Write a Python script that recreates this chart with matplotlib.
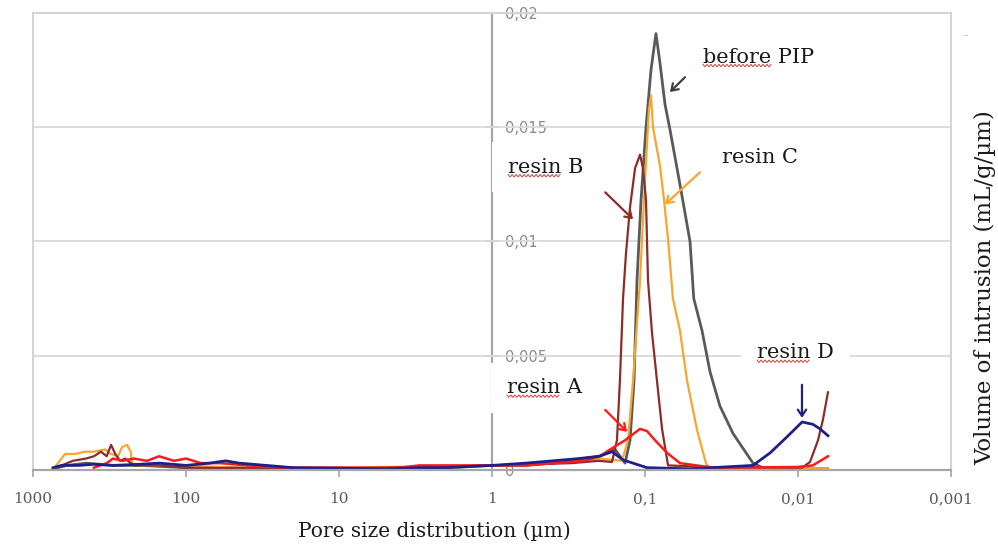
import numpy as np
import matplotlib
matplotlib.use("Agg")
import matplotlib.pyplot as plt
from matplotlib.ticker import NullLocator
from matplotlib.lines import Line2D

plt.rcParams["font.family"] = ["DejaVu Serif"]

# pore size (um) vs volume of intrusion (mL/g/um)
pip_x = [740, 600, 450, 300, 200, 100, 50, 20, 10, 5, 2, 1, 0.6, 0.4, 0.3, 0.25, 0.197, 0.157,
         0.135, 0.1253, 0.118, 0.1128, 0.1062, 0.0985, 0.0914, 0.0848, 0.0798, 0.074, 0.0687,
         0.0591, 0.0508, 0.048, 0.0424, 0.0376, 0.0324, 0.0266, 0.0197, 0.0164, 0.012, 0.009, 0.0064]
pip_y = [0.00005, 0.0002, 0.0003, 0.0002, 0.0002, 0.0001, 0.0001, 0.00005, 0.00005, 0.00005, 0.0001,
         0.0002, 0.0002, 0.0003, 0.0004, 0.0005, 0.0006, 0.0009, 0.0003, 0.0013, 0.0039,
         0.0083, 0.0118, 0.0150, 0.0175, 0.0191, 0.0178, 0.0160, 0.0149, 0.0125, 0.0100, 0.0075,
         0.0061, 0.0043, 0.0028, 0.0016, 0.0003, 0.00005, 0.00005, 0.00005, 0.00005]

c_x = [740, 687, 618, 532, 457, 400, 339, 309, 278, 262, 243, 230, 225, 200, 100, 50, 10, 1, 0.4,
       0.25, 0.197, 0.1413, 0.1292, 0.1198, 0.1078, 0.1, 0.0942, 0.0914, 0.0887, 0.0798, 0.0751,
       0.0707, 0.0657, 0.0591, 0.0531, 0.0457, 0.04, 0.0376, 0.02, 0.0064]
c_y = [0.0, 0.0003, 0.0007, 0.0007, 0.0008, 0.0008, 0.0009, 0.0007, 0.0006, 0.0010, 0.0011, 0.0008,
       0.0003, 0.0002, 0.0002, 0.0001, 0.0001, 0.0002, 0.0003, 0.0004, 0.0005, 0.0004, 0.0013,
       0.0039, 0.0083, 0.0127, 0.0158, 0.0164, 0.0150, 0.0133, 0.0118, 0.0101, 0.0075, 0.0061,
       0.0039, 0.00175, 0.0003, 0.00005, 0.00005, 0.00005]

b_x = [740, 650, 550, 450, 400, 360, 330, 309, 290, 270, 250, 220, 150, 100, 10, 1, 0.3, 0.2,
       0.1643, 0.1525, 0.1457, 0.1392, 0.1331, 0.1253, 0.1162, 0.1078, 0.103, 0.0985, 0.097,
       0.0956, 0.09, 0.0835, 0.0774, 0.0707, 0.03, 0.0094, 0.00835, 0.0074, 0.00687, 0.00637]
b_y = [0.0, 0.0002, 0.0004, 0.0005, 0.0006, 0.0008, 0.0006, 0.0011, 0.0007, 0.0004, 0.0005, 0.0002,
       0.0002, 0.0001, 0.00005, 0.0002, 0.0003, 0.0004, 0.00035, 0.0013, 0.0040, 0.0075, 0.0095,
       0.0115, 0.0132, 0.0138, 0.0132, 0.0118, 0.0100, 0.0083, 0.0060, 0.0039, 0.0018, 0.0002,
       0.0001, 0.0001, 0.00035, 0.0013, 0.0022, 0.0034]

a_x = [400, 330, 300, 260, 220, 180, 150, 120, 100, 80, 60, 40, 20, 8, 4, 3, 2, 1, 0.6, 0.4, 0.25,
       0.197, 0.169, 0.135, 0.1078, 0.097, 0.086, 0.0718, 0.0591, 0.036, 0.0101, 0.008, 0.00637]
a_y = [0.0001, 0.0003, 0.0005, 0.0004, 0.0005, 0.0004, 0.0006, 0.0004, 0.0005, 0.0003, 0.0003,
       0.0002, 0.0001, 0.0001, 0.0001, 0.0002, 0.0002, 0.0002, 0.0002, 0.0003, 0.0004, 0.0006,
       0.0009, 0.0013, 0.0018, 0.0017, 0.0013, 0.00075, 0.0003, 0.0001, 0.00013, 0.0002, 0.0006]

d_x = [740, 650, 500, 400, 300, 200, 150, 100, 70, 55, 45, 30, 20, 10, 5, 3, 2, 1, 0.6, 0.4, 0.27,
       0.2, 0.1643, 0.1392, 0.097, 0.05, 0.0197, 0.0152, 0.0118, 0.0094, 0.008, 0.00718, 0.00637]
d_y = [0.0001, 0.0002, 0.0002, 0.00025, 0.0002, 0.00025, 0.0003, 0.0002, 0.0003, 0.0004, 0.0003,
       0.0002, 0.0001, 0.00008, 0.00005, 0.0001, 0.0001, 0.0002, 0.0003, 0.0004, 0.0005, 0.0006,
       0.0008, 0.00044, 0.0001, 0.00005, 0.0002, 0.00075, 0.00145, 0.0021, 0.0020, 0.0018, 0.0015]

x_ticks = [1000, 100, 10, 1, 0.1, 0.01, 0.001]
x_ticklabels = ["1000", "100", "10", "1", "0,1", "0,01", "0,001"]
y_ticks = [0, 0.005, 0.01, 0.015, 0.02]
y_ticklabels = ["0", "0,005", "0,01", "0,015", "0,02"]

series = [(pip_x, pip_y, "#5a5a5a", 2.0), (c_x, c_y, "#f7a630", 1.6), (b_x, b_y, "#8e2b2b", 1.6),
          (a_x, a_y, "#ff1a1a", 1.8), (d_x, d_y, "#1f1f8c", 2.0)]

# label, text pos, arrow tail, arrow tip, colour, underlined word
notes = [("before PIP", (0.0418, 0.01807), (0.0548, 0.01719), (0.0687, 0.01654), "#404040", "before"),
         ("resin C", (0.0314, 0.01368), (0.0437, 0.01303), (0.0740, 0.01162), "#f7a630", None),
         ("resin B", (0.785, 0.01325), (0.182, 0.01215), (0.1197, 0.01097), "#8e2b2b", "resin"),
         ("resin A", (0.80, 0.0036), (0.182, 0.00263), (0.131, 0.00167), "#ff1a1a", "resin"),
         ("resin D", (0.01853, 0.00513), (0.00942, 0.00373), (0.00942, 0.00228), "#1f1f8c", "resin")]

fig = plt.figure(figsize=(9.98, 5.5), dpi=100)
ax = fig.add_axes([0.0331, 0.1455, 0.9198, 0.8309])
ax.set_xscale("log")
ax.set_xlim(1000, 0.001)
ax.set_ylim(0, 0.02)

for xs, ys, col, lw in series:
    ax.plot(xs, ys, color=col, lw=lw, zorder=2)

ax.set_xticks(x_ticks, labels=x_ticklabels)
ax.xaxis.set_minor_locator(NullLocator())
ax.tick_params(axis="x", direction="out", length=5, width=1.2, color="#a6a6a6",
               labelcolor="#595959", labelsize=11, pad=11)
ax.set_yticks(y_ticks)
ax.tick_params(axis="y", left=False, labelleft=False)
ax.yaxis.grid(True, color="#d9d9d9", lw=1.3)
for s in ["top", "left", "right"]:
    ax.spines[s].set_color("#d4d4d4"); ax.spines[s].set_linewidth(1.5)
ax.spines["bottom"].set_color("#a6a6a6"); ax.spines["bottom"].set_linewidth(1.6)

# value axis sits at 1 um, in the middle of the plot
sec = ax.secondary_yaxis(0.5)
sec.set_yticks(y_ticks, labels=y_ticklabels)
sec.tick_params(axis="y", direction="inout", length=8, width=1.2, color="#a6a6a6",
                labelcolor="#8a8a8a", labelsize=10.5, pad=5)
for lab in sec.get_yticklabels():
    lab.set_fontfamily("DejaVu Sans")
sec.spines["right"].set_color("#a6a6a6"); sec.spines["right"].set_linewidth(1.6)

ax.set_xlabel("Pore size distribution (µm)", fontsize=14.5, color="#1a1a1a")
ax.xaxis.set_label_coords(0.437, -0.112)
ax.yaxis.set_label_position("right")
ax.set_ylabel("Volume of intrusion (mL/g/µm)", fontsize=16.5, color="#1a1a1a")
ax.yaxis.set_label_coords(1.025, 0.40)
fig.text(965 / 998, 1 - 35 / 550, "–", color="#bbbbbb", fontsize=8, ha="center", va="center")

texts = []
for label, tpos, tail, tip, col, wavy in notes:
    t = ax.text(*tpos, label, fontsize=15, ha="left", va="center", color="#1a1a1a", zorder=4,
                bbox=dict(boxstyle="square,pad=0.75", fc="white", ec="none"))
    ax.annotate("", xy=tip, xytext=tail, zorder=5,
                arrowprops=dict(arrowstyle="->,head_length=0.45,head_width=0.3", color=col, lw=1.6,
                                shrinkA=0, shrinkB=0))
    texts.append((t, wavy))

# red spell-check squiggles under some words
fig.canvas.draw()
r = fig.canvas.get_renderer()
for t, word in texts:
    if not word:
        continue
    bb = t.get_window_extent(r)
    tmp = ax.text(0, 0, word, fontsize=15, transform=None)
    w = tmp.get_window_extent(r).width
    tmp.remove()
    xs = np.arange(bb.x0, bb.x0 + w, 2.0)
    ys = bb.y0 + 1.0 + np.where(np.arange(len(xs)) % 2 == 0, 1.2, -1.2)
    pts = fig.transFigure.inverted().transform(np.column_stack([xs, ys]))
    fig.add_artist(Line2D(pts[:, 0], pts[:, 1], color="#e23b3b", lw=0.7, zorder=6))

fig.savefig("out.png", dpi=100)
